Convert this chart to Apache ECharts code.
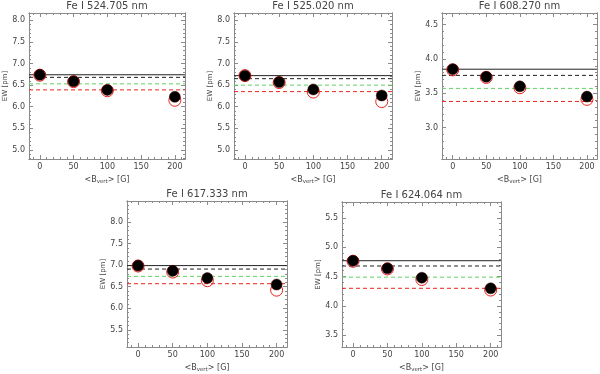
<!DOCTYPE html>
<html>
<head>
<meta charset="utf-8">
<script src="https://cdn.jsdelivr.net/npm/echarts@6/dist/echarts.min.js"></script>
<style>
  html, body { margin: 0; padding: 0; background: #fff; }
  #main { width: 600px; height: 374px; }
</style>
</head>
<body>
<div id="main"></div>
<script>
// spectral lines, one panel each
var lineNames = ["Fe I 524.705 nm", "Fe I 525.020 nm", "Fe I 608.270 nm", "Fe I 617.333 nm", "Fe I 624.064 nm"];
var bVert = [0, 50, 100, 200];
// filled black circles
var ewBlack = [
  [6.74, 6.59, 6.39, 6.23],
  [6.72, 6.57, 6.40, 6.26],
  [3.85, 3.74, 3.60, 3.45],
  [6.99, 6.87, 6.70, 6.55],
  [4.77, 4.64, 4.48, 4.30]
];
// open red circles
var ewRed = [
  [6.73, 6.58, 6.37, 6.15],
  [6.72, 6.56, 6.34, 6.12],
  [3.84, 3.73, 3.58, 3.41],
  [6.98, 6.84, 6.64, 6.42],
  [4.76, 4.63, 4.45, 4.27]
];
// horizontal reference levels
var refSolid = [6.74, 6.72, 3.85, 6.99, 4.77];
var refDash = [6.68, 6.65, 3.76, 6.91, 4.68];
var refGreen = [6.53, 6.50, 3.57, 6.74, 4.49];
var refRed = [6.39, 6.35, 3.38, 6.57, 4.30];
// axes
var xTicks = [0, 50, 100, 150, 200];
var yTicks = [
  [5.0, 5.5, 6.0, 6.5, 7.0, 7.5, 8.0],
  [5.0, 5.5, 6.0, 6.5, 7.0, 7.5, 8.0],
  [3.0, 3.5, 4.0, 4.5],
  [5.5, 6.0, 6.5, 7.0, 7.5, 8.0],
  [3.5, 4.0, 4.5, 5.0, 5.5]
];
var yMin = [4.79, 4.79, 2.54, 5.10, 3.30];
var yMax = [8.17, 8.17, 4.67, 8.49, 5.77];
var xMin = -16, xMax = 215;

// panel boxes [left, top, width, height]
var boxes = [[29, 13, 156, 146], [234, 13, 158, 146], [442, 13, 155, 146], [127, 201, 160, 151], [342, 202, 159, 149]];

var axisGray = "#8a8a8a", textCol = "#444", fam = "DejaVu Sans";

function minors(lo, hi, step, majors) {
  var out = [];
  for (var k = Math.ceil(lo / step - 1e-9); k * step <= hi + 1e-9; k++) {
    var v = Math.round(k * step * 1000) / 1000;
    if (majors.indexOf(v) < 0) out.push(v);
  }
  return out;
}

function xAx(i, pos, ticks, len, label) {
  return {
    gridIndex: i, type: "value", position: pos, min: xMin, max: xMax,
    splitLine: {show: false},
    axisLine: {show: true, onZero: false, lineStyle: {color: axisGray, width: 1}},
    axisTick: {show: true, inside: true, length: len, customValues: ticks, lineStyle: {color: axisGray}},
    axisLabel: label ? {show: true, customValues: xTicks, margin: 4, color: textCol, fontSize: 8, fontFamily: fam} : {show: false},
    name: label ? "<B{s|vert}> [G]" : "",
    nameLocation: "middle", nameGap: 15,
    nameTextStyle: {color: textCol, fontSize: 8, fontFamily: fam, rich: {s: {fontSize: 5.5, padding: [5, 0, 0, 0], fontFamily: fam, color: textCol}}}
  };
}

function yAx(i, pos, ticks, len, label) {
  return {
    gridIndex: i, type: "value", position: pos, min: yMin[i], max: yMax[i],
    splitLine: {show: false},
    axisLine: {show: true, onZero: false, lineStyle: {color: axisGray, width: 1}},
    axisTick: {show: true, inside: true, length: len, customValues: ticks, lineStyle: {color: axisGray}},
    axisLabel: label ? {show: true, customValues: yTicks[i], margin: 4, color: textCol, fontSize: 8, fontFamily: fam,
      formatter: function (v) { return v.toFixed(1); }} : {show: false},
    name: label ? "EW [pm]" : "",
    nameLocation: "middle", nameGap: 17, nameRotate: 90,
    nameTextStyle: {color: textCol, fontSize: 7, fontFamily: fam}
  };
}

function refLine(i, val, color, type) {
  return {
    type: "line", xAxisIndex: 4 * i, yAxisIndex: 4 * i, z: 1,
    showSymbol: false, symbol: "none", silent: true,
    lineStyle: {color: color, width: 1, type: type, opacity: 1},
    data: [[xMin, val], [xMax, val]]
  };
}

var grids = [], xAxes = [], yAxes = [], series = [], graphics = [];
for (var i = 0; i < 5; i++) {
  var b = boxes[i];
  grids.push({left: b[0], top: b[1], width: b[2], height: b[3], containLabel: false});
  var xm = minors(-10, 210, 10, xTicks);
  var ym = minors(yMin[i], yMax[i], 0.1, yTicks[i]);
  xAxes.push(xAx(i, "bottom", xTicks, 4, true), xAx(i, "bottom", xm, 2, false),
             xAx(i, "top", xTicks, 4, false), xAx(i, "top", xm, 2, false));
  yAxes.push(yAx(i, "left", yTicks[i], 4, true), yAx(i, "left", ym, 2, false),
             yAx(i, "right", yTicks[i], 4, false), yAx(i, "right", ym, 2, false));
  series.push(refLine(i, refSolid[i], "#222", "solid"));
  series.push(refLine(i, refDash[i], "#222", [4, 3]));
  series.push(refLine(i, refGreen[i], "#5fd35f", [4, 3]));
  series.push(refLine(i, refRed[i], "#e8231c", [4, 3]));
  series.push({
    type: "scatter", xAxisIndex: 4 * i, yAxisIndex: 4 * i, z: 2,
    symbol: "circle", symbolSize: 12,
    itemStyle: {color: "rgba(0,0,0,0)", borderColor: "#e8231c", borderWidth: 1, opacity: 1},
    data: bVert.map(function (x, k) { return [x, ewRed[i][k]]; })
  });
  series.push({
    type: "scatter", xAxisIndex: 4 * i, yAxisIndex: 4 * i, z: 3,
    symbol: "circle", symbolSize: 11,
    itemStyle: {color: "#000", borderColor: "#400", borderWidth: 0.5, opacity: 1},
    data: bVert.map(function (x, k) { return [x, ewBlack[i][k]]; })
  });
  graphics.push({
    type: "text", x: b[0] + b[2] / 2, y: b[1] - 2,
    style: {text: lineNames[i], fill: textCol, font: "10px " + fam, textAlign: "center", textVerticalAlign: "bottom"}
  });
}

var chart = echarts.init(document.getElementById("main"), null, {renderer: "canvas"});
chart.setOption({
  animation: false,
  backgroundColor: "#fff",
  grid: grids,
  xAxis: xAxes,
  yAxis: yAxes,
  series: series,
  graphic: graphics
});
</script>
</body>
</html>
